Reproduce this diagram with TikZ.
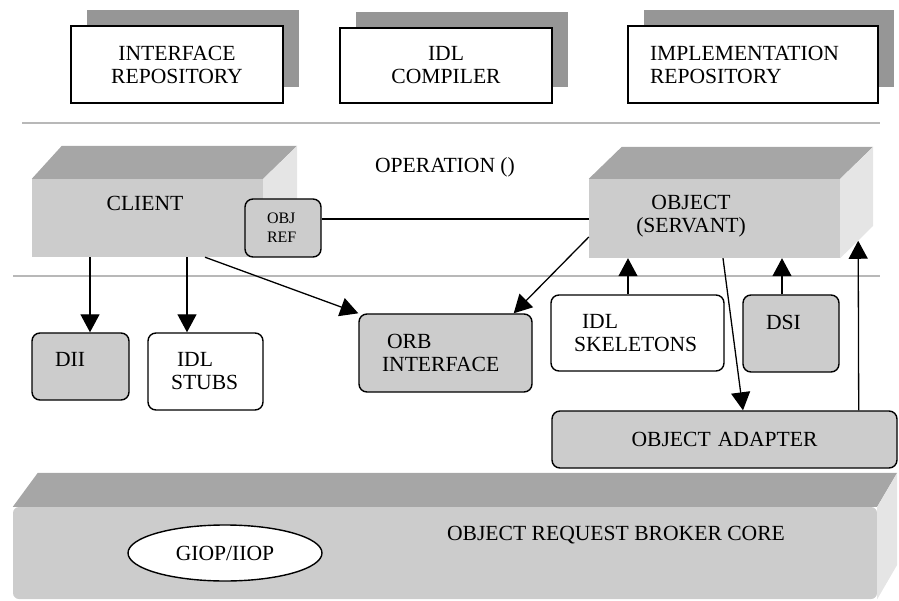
\documentclass[tikz,border=0pt]{standalone}
\usepackage{fontspec}
\setmainfont{Liberation Serif}
\usetikzlibrary{shapes.geometric,arrows.meta,calc,shadows}
\definecolor{facegray}{gray}{0.8}
\definecolor{topgray}{gray}{0.65}
\definecolor{sidegray}{gray}{0.9}
\definecolor{shadowgray}{gray}{0.59}
\definecolor{rulegray}{gray}{0.72}
\newcommand{\mainsize}{\fontsize{21.6pt}{23pt}\selectfont}
\newcommand{\refsize}{\fontsize{16pt}{19pt}\selectfont}
\tikzset{
  every node/.style={font=\mainsize},
  repobox/.style={draw=black, line width=1.4pt, fill=white, align=center, inner sep=0pt,
    general shadow={fill=shadowgray, shadow xshift=16pt, shadow yshift=16pt}},
  frontface/.style={fill=facegray, draw=none, inner sep=0pt},
  topface/.style={fill=topgray},
  sideface/.style={fill=sidegray},
  roundbox/.style={draw=black, line width=1.4pt, rounded corners=8pt, inner xsep=23pt, inner ysep=0pt, align=left},
  greybox/.style={roundbox, fill=facegray},
  whitebox/.style={roundbox, fill=white},
  rulesep/.style={draw=rulegray, line width=1.5pt},
  flow/.style={draw=black, line width=1.3pt, -{Triangle[length=18pt,width=19pt]}},
  plainline/.style={draw=black, line width=1.3pt},
  plaintext/.style={align=center, inner sep=0pt}
}
\begin{document}
\begin{tikzpicture}[x=1pt, y=-1pt]
\useasboundingbox (0,0) rectangle (899,601);

% layer separators
\draw[rulesep] (22,123) -- (880,123);
\draw[rulesep] (13,276) -- (880,276);

% repositories and compiler
\node[repobox, minimum width=212pt, minimum height=77pt] (ifrepo) at (177,64.5) {INTERFACE\\REPOSITORY};
\node[repobox, minimum width=212pt, minimum height=75pt] (idlc) at (446,65.5) {IDL\\COMPILER};
\node[repobox, minimum width=250pt, minimum height=77pt, text width=206pt, inner xsep=22pt, align=left] (imrepo) at (753,64.5) {IMPLEMENTATION\\REPOSITORY};

% client block
\node[frontface, minimum width=231pt, minimum height=78pt] (clientface) at (147.5,218) {};
\fill[topface] (clientface.north west) -- ++(30,-33) -- ($(clientface.north east)+(34,-33)$) -- (clientface.north east) -- cycle;
\fill[sideface] (clientface.north east) -- ++(34,-33) -- ++(0,78) -- (clientface.south east) -- cycle;
\node[plaintext] (clienttext) at (145,203) {CLIENT};
\node[greybox, font=\refsize, minimum width=76pt, minimum height=58pt, text width=32pt, inner xsep=22pt] (objref) at (283,228) {OBJ\\REF};

% object block
\node[frontface, minimum width=251pt, minimum height=79pt] (objface) at (714.5,218.5) {};
\fill[topface] (objface.north west) -- ++(33,-32) -- ($(objface.north east)+(33,-32)$) -- (objface.north east) -- cycle;
\fill[sideface] (objface.north east) -- ++(33,-32) -- ++(0,79) -- (objface.south east) -- cycle;
\coordinate (objsidefoot) at ($(objface.south east)+(33,-32)$);
\node[plaintext] (objtext) at (691,216) {OBJECT\\(SERVANT)};

\node[plaintext] (optext) at (445,167) {OPERATION ()};
\draw[plainline] ([yshift=9pt]objref.east) -- ([yshift=9pt]objref.east -| objface.west);

% interfaces
\node[greybox, minimum width=97pt, minimum height=67pt, text width=51pt] (dii) at (80.5,366.5) {DII\\[-8pt]~};
\node[whitebox, minimum width=115pt, minimum height=77pt, text width=69pt] (stubs) at (205.5,371.5) {\hspace*{6pt}IDL\\STUBS};
\node[greybox, minimum width=173pt, minimum height=78pt, text width=127pt] (orb) at (445.5,353) {\hspace*{5pt}ORB\\INTERFACE};
\node[whitebox, minimum width=173pt, minimum height=76pt, text width=127pt] (skel) at (637.5,333) {\hspace*{8pt}IDL\\SKELETONS};
\node[greybox, minimum width=96pt, minimum height=77pt, text width=50pt] (dsi) at (791,333.5) {DSI\\~};
\node[greybox, minimum width=345pt, minimum height=57pt, text width=299pt, align=center] (oa) at (724.5,439.5) {OBJECT ADAPTER};

% ORB core block
\node[frontface, rounded corners=6pt, minimum width=864pt, minimum height=92pt] (coreface) at (445,553) {};
\fill[topface] (coreface.north west) -- ++(25,-34) -- ($(coreface.north east)+(20,-34)$) -- (coreface.north east) -- cycle;
\fill[sideface] (coreface.north east) -- ++(20,-34) -- ++(0,92) -- (coreface.south east) -- cycle;
\node[draw=black, ellipse, line width=1.4pt, fill=white, minimum width=194pt, minimum height=56pt, inner sep=0pt] (giop) at (225,553) {GIOP/IIOP};
\node[plaintext] (coretext) at (616,535) {OBJECT REQUEST BROKER CORE};

% calls
\draw[flow] ([xshift=9.5pt]dii.north |- clientface.south) -- ([xshift=9.5pt]dii.north);
\draw[flow] ([xshift=-18.5pt]stubs.north |- clientface.south) -- ([xshift=-18.5pt]stubs.north);
\draw[flow] ([xshift=57.5pt]clientface.south) -- (orb.north west);
\draw[flow] ([yshift=-18.5pt]objface.west) -- ([xshift=-19pt]orb.north east);
\draw[flow] ([xshift=8.5pt]objface.south) -- ([xshift=18.5pt]oa.north);
\draw[flow] ([xshift=-9.5pt]skel.north) -- ([xshift=-9.5pt]skel.north |- objface.south);
\draw[flow] ([xshift=-9pt]dsi.north) -- ([xshift=-9pt]dsi.north |- objface.south);
\draw[flow] ([xshift=-39pt]oa.north east) -- ($(objface.south east)!0.545!(objsidefoot)$);
\end{tikzpicture}
\end{document}
